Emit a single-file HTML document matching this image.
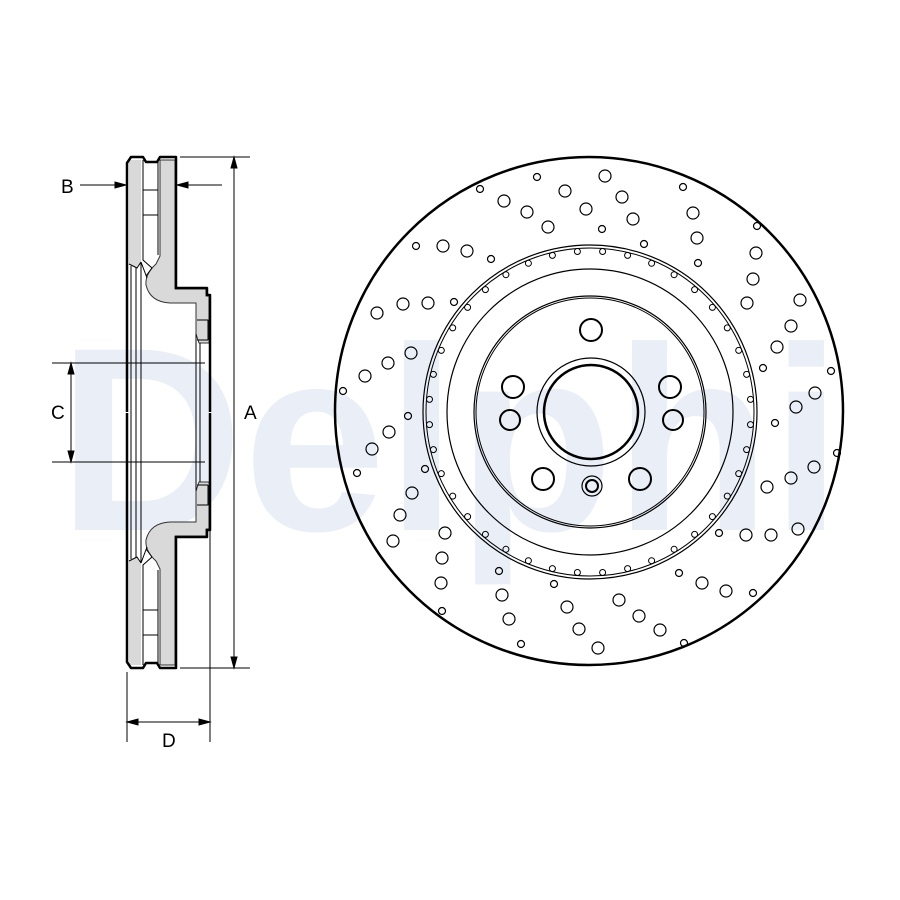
<!DOCTYPE html>
<html><head><meta charset="utf-8"><style>html,body{margin:0;padding:0;background:#fff}svg{display:block}</style></head>
<body>
<svg width="900" height="900" viewBox="0 0 900 900" xmlns="http://www.w3.org/2000/svg" font-family="Liberation Sans, sans-serif">
<rect width="900" height="900" fill="#fff"/>
<text x="58" y="530" font-size="262" font-weight="bold" fill="#e9eef7" textLength="784" lengthAdjust="spacingAndGlyphs">Delphi</text>

<!-- Profile -->
<g id="half" stroke="#000" stroke-linejoin="round">
  <path d="M129,160 L141,160 L141,262 L137,268 L129,264 Z" fill="#d9d9d9" stroke="none"/>
  <path d="M160,160 L175,160 L175,289 L206,289 L206,296 L209,296 L209,343 L199,343 L196,334 L196,303 L170,303 Q150,302 146,285 Q145,274 156,264 L160,256 Z" fill="#d9d9d9" stroke="#333" stroke-width="1"/>
  <path d="M141,262 L137,268 L129,264" fill="none" stroke-width="1"/>
  <path d="M143,160 L143,260 L152,268 M158,160 L158,255" fill="none" stroke-width="1"/>
  <path d="M143,190 L158,190 M143,215 L158,215" stroke-width="1"/>
  <path d="M141,262 L147,278 M152,268 L146,276" stroke-width="1" fill="none"/>
  <path d="M127,412 L127,163 L131,157 L143,157 L146,162 L157,162 L160,157 L176,157 L176,288 L207,288 L207,295 L210,295 L210,412" fill="none" stroke-width="2.5"/>
  <path d="M197,320 L208,320 L208,340 M197,340 L208,340" stroke-width="1" fill="none"/>
</g>
<use href="#half" transform="translate(0,825) scale(1,-1)"/>
<g stroke="#000" stroke-width="1">
  <line x1="131" y1="266" x2="131" y2="559"/><line x1="136" y1="268" x2="136" y2="557"/><line x1="141" y1="262" x2="141" y2="563"/>
  <line x1="196" y1="334" x2="196" y2="491"/><line x1="200" y1="343" x2="200" y2="482"/>
</g>

<!-- Dimensions -->
<g stroke="#000" stroke-width="1" fill="#000">
  <line x1="180" y1="157" x2="250" y2="157"/><line x1="180" y1="668" x2="250" y2="668"/>
  <line x1="234" y1="160" x2="234" y2="665"/>
  <path d="M234,157 L231,168 L237,168 Z"/><path d="M234,668 L231,657 L237,657 Z"/>
  <line x1="80" y1="185" x2="124" y2="185"/><path d="M126,185 L115,182 L115,188 Z"/>
  <line x1="178" y1="185" x2="222" y2="185"/><path d="M177,185 L188,182 L188,188 Z"/>
  <line x1="52" y1="363" x2="205" y2="363"/><line x1="52" y1="462" x2="205" y2="462"/>
  <line x1="71" y1="366" x2="71" y2="459"/>
  <path d="M71,363 L68,374 L74,374 Z"/><path d="M71,462 L68,451 L74,451 Z"/>
  <line x1="127" y1="672" x2="127" y2="742"/><line x1="210" y1="525" x2="210" y2="742"/>
  <line x1="130" y1="722" x2="207" y2="722"/>
  <path d="M127,722 L138,719 L138,725 Z"/><path d="M210,722 L199,719 L199,725 Z"/>
</g>
<g font-size="19" fill="#000">
  <text x="61" y="193">B</text><text x="51" y="419">C</text><text x="244" y="419">A</text><text x="162" y="747">D</text>
</g>

<!-- Disc front view -->
<g fill="none" stroke="#000">
  <circle cx="589" cy="411" r="254" stroke-width="2.5"/>
  <circle cx="590" cy="412" r="167" stroke-width="1.2"/>
  <circle cx="590" cy="412" r="164" stroke-width="1"/>
  <circle cx="590" cy="412" r="143" stroke-width="1.2"/>
  <circle cx="590" cy="412" r="116" stroke-width="1.2"/>
  <circle cx="590" cy="412" r="114" stroke-width="1"/>
  <circle cx="591" cy="412" r="54" stroke-width="1.2"/>
  <circle cx="591" cy="412" r="47" stroke-width="2.5"/>
  <g stroke-width="2">
    <circle cx="591" cy="330" r="11"/>
    <circle cx="513" cy="387" r="11"/><circle cx="510" cy="420" r="10"/>
    <circle cx="670" cy="387" r="11"/><circle cx="673" cy="420" r="10"/>
    <circle cx="543" cy="479" r="11"/><circle cx="640" cy="479" r="11"/>
    <circle cx="592" cy="486" r="6"/>
  </g>
  <circle cx="592" cy="486" r="10" stroke-width="1.2"/>
  <g id="scal" stroke-width="1"></g>
</g>
<g fill="none" stroke="#000" stroke-width="1.2">
<circle cx="537" cy="177" r="3.5"/><circle cx="605" cy="176" r="6"/><circle cx="480" cy="189" r="3.5"/><circle cx="565" cy="191" r="6"/><circle cx="504" cy="201" r="6"/><circle cx="622" cy="197" r="6"/><circle cx="683" cy="187" r="3.5"/><circle cx="527" cy="212" r="6"/><circle cx="586" cy="209" r="6"/><circle cx="693" cy="213" r="6"/><circle cx="633" cy="219" r="6"/><circle cx="548" cy="227" r="6"/><circle cx="602" cy="229" r="3.5"/><circle cx="757" cy="226" r="3.5"/><circle cx="697" cy="238" r="6"/><circle cx="416" cy="246" r="3.5"/><circle cx="443" cy="246" r="6"/><circle cx="467" cy="251" r="6"/><circle cx="491" cy="259" r="3.5"/><circle cx="644" cy="244" r="3.5"/><circle cx="698" cy="263" r="3.5"/><circle cx="756" cy="253" r="6"/><circle cx="753" cy="279" r="6"/><circle cx="800" cy="300" r="6"/><circle cx="747" cy="303" r="6"/><circle cx="377" cy="313" r="6"/><circle cx="403" cy="304" r="6"/><circle cx="428" cy="303" r="6"/><circle cx="454" cy="302" r="3.5"/><circle cx="791" cy="326" r="6"/><circle cx="411" cy="353" r="6"/><circle cx="388" cy="363" r="6"/><circle cx="777" cy="347" r="6"/><circle cx="365" cy="376" r="6"/><circle cx="763" cy="368" r="3.5"/><circle cx="831" cy="371" r="3.5"/><circle cx="343" cy="391" r="3.5"/><circle cx="815" cy="393" r="6"/><circle cx="796" cy="407" r="6"/>
<circle cx="408" cy="416" r="3.5"/><circle cx="389" cy="432" r="6"/><circle cx="372" cy="449" r="6"/><circle cx="775" cy="423" r="3.5"/><circle cx="837" cy="453" r="3.5"/><circle cx="814" cy="467" r="6"/><circle cx="357" cy="473" r="3.5"/><circle cx="425" cy="469" r="3.5"/><circle cx="791" cy="478" r="6"/><circle cx="767" cy="487" r="6"/><circle cx="412" cy="493" r="6"/><circle cx="400" cy="515" r="6"/><circle cx="445" cy="533" r="6"/><circle cx="393" cy="541" r="6"/><circle cx="719" cy="533" r="3.5"/><circle cx="746" cy="535" r="6"/><circle cx="771" cy="535" r="6"/><circle cx="798" cy="529" r="6"/><circle cx="442" cy="558" r="6"/><circle cx="499" cy="571" r="3.5"/><circle cx="679" cy="573" r="3.5"/><circle cx="441" cy="583" r="6"/><circle cx="554" cy="584" r="3.5"/><circle cx="702" cy="583" r="6"/><circle cx="726" cy="591" r="6"/><circle cx="753" cy="593" r="3.5"/><circle cx="502" cy="595" r="6"/><circle cx="619" cy="600" r="6"/><circle cx="567" cy="607" r="6"/><circle cx="442" cy="611" r="3.5"/><circle cx="639" cy="616" r="6"/><circle cx="509" cy="619" r="6"/><circle cx="579" cy="629" r="6"/><circle cx="660" cy="630" r="6"/><circle cx="521" cy="644" r="3.5"/><circle cx="684" cy="643" r="3.5"/><circle cx="598" cy="648" r="6"/>
</g>
<script>
(function(){var g=document.getElementById('scal');var ns='http://www.w3.org/2000/svg';for(var i=0;i<40;i++){var a=(i+0.5)*Math.PI*2/40;var c=document.createElementNS(ns,'circle');c.setAttribute('cx',(590+Math.cos(a)*161).toFixed(1));c.setAttribute('cy',(412+Math.sin(a)*161).toFixed(1));c.setAttribute('r','3');g.appendChild(c);}})();
</script>
</svg>
</body></html>
